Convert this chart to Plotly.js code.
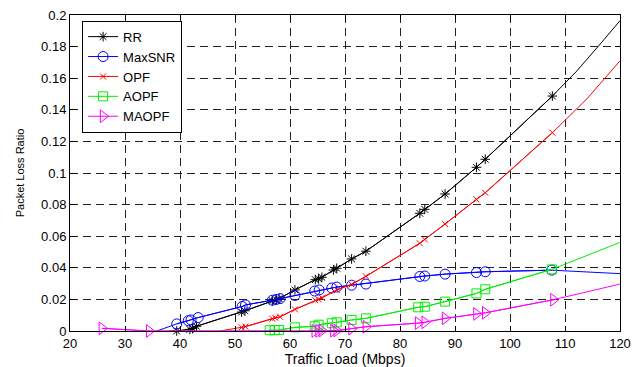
<!DOCTYPE html>
<html>
<head>
<meta charset="utf-8">
<script src="https://cdn.plot.ly/plotly-3.0.1.min.js"></script>
<style>html,body{margin:0;padding:0;background:#fff}#chart{width:633px;height:367px}</style>
</head>
<body>
<div id="chart"></div>
<script>
// Series names
const seriesNames = ["RR", "MaxSNR", "OPF", "AOPF", "MAOPF"];

// RR (measured points)
const rrX = [39.4, 41.8, 42.3, 43.0, 51.2, 51.8, 56.8, 57.5, 58.0, 60.9, 64.6, 65.2, 65.8, 67.9, 68.5, 71.2, 73.8, 83.6, 84.5, 88.2, 93.9, 95.5, 107.7];
const rrY = [0.0, 0.001, 0.0015, 0.003, 0.012, 0.0128, 0.019, 0.0198, 0.0205, 0.026, 0.0325, 0.033, 0.034, 0.0386, 0.0397, 0.0456, 0.0505, 0.0745, 0.077, 0.0867, 0.1036, 0.1087, 0.1487];
const rrHeadX = [38.0], rrHeadY = [0.0];
const rrTailX = [112, 116, 120], rrTailY = [0.164, 0.18, 0.1964];

// MaxSNR
const snrX = [39.4, 41.5, 42.0, 43.3, 51.3, 51.9, 56.8, 57.5, 58.2, 60.9, 64.5, 65.3, 67.6, 68.5, 71.2, 73.8, 83.6, 84.5, 88.2, 93.9, 95.5, 107.6];
const snrY = [0.0045, 0.0065, 0.007, 0.0085, 0.0155, 0.0165, 0.0195, 0.02, 0.0205, 0.0225, 0.0253, 0.026, 0.0272, 0.0278, 0.029, 0.0297, 0.0345, 0.0348, 0.036, 0.037, 0.0375, 0.0385];
const snrHeadX = [35.8], snrHeadY = [0.0];
const snrTailX = [114, 120], snrTailY = [0.0375, 0.0363];

// OPF
const opfX = [51.2, 51.9, 56.8, 57.3, 58.2, 60.9, 64.6, 65.2, 65.8, 68.5, 71.2, 73.8, 83.6, 84.5, 88.2, 93.9, 95.5, 107.7];
const opfY = [0.0023, 0.0028, 0.0078, 0.0084, 0.009, 0.0137, 0.0195, 0.02, 0.021, 0.026, 0.0295, 0.0346, 0.0555, 0.058, 0.0677, 0.0833, 0.0875, 0.1255];
const opfHeadX = [47.3], opfHeadY = [0.0];
const opfTailX = [114, 120], opfTailY = [0.147, 0.171];

// AOPF
const aopfX = [56.3, 57.2, 58.0, 60.9, 64.5, 65.2, 67.6, 68.5, 71.2, 73.8, 83.3, 84.5, 88.2, 93.9, 95.5, 107.6];
const aopfY = [0.0005, 0.0005, 0.0006, 0.0023, 0.003, 0.004, 0.0049, 0.0055, 0.007, 0.008, 0.015, 0.0154, 0.0186, 0.0238, 0.0264, 0.039];
const aopfHeadX = [55.5], aopfHeadY = [0.0];
const aopfTailX = [120], aopfTailY = [0.0561];

// MAOPF
const maopfX = [25.8, 34.4, 64.5, 65.2, 65.8, 67.9, 68.5, 71.2, 73.8, 83.3, 84.5, 88.2, 93.9, 95.5, 107.9];
const maopfY = [0.0017, 0.0, 0.0, 0.0, 0.0002, 0.0002, 0.0003, 0.0015, 0.0027, 0.005, 0.0055, 0.008, 0.0108, 0.0115, 0.0198];
const maopfHeadX = [], maopfHeadY = [];
const maopfTailX = [120], maopfTailY = [0.0297];

// Tick labels
const xTicks = [20, 30, 40, 50, 60, 70, 80, 90, 100, 110, 120];
const yTicks = [0, 0.02, 0.04, 0.06, 0.08, 0.1, 0.12, 0.14, 0.16, 0.18, 0.2];

const styles = [
  {color: "#000000", symbol: "asterisk-open", size: 8},
  {color: "#0000ff", symbol: "circle-open", size: 10},
  {color: "#ff0000", symbol: "x-thin-open", size: 6},
  {color: "#00ee00", symbol: "square-open", size: 9},
  {color: "#ff00ff", symbol: "triangle-right-open", size: 11}
];
const series = [
  [rrX, rrY, rrHeadX, rrHeadY, rrTailX, rrTailY],
  [snrX, snrY, snrHeadX, snrHeadY, snrTailX, snrTailY],
  [opfX, opfY, opfHeadX, opfHeadY, opfTailX, opfTailY],
  [aopfX, aopfY, aopfHeadX, aopfHeadY, aopfTailX, aopfTailY],
  [maopfX, maopfY, maopfHeadX, maopfHeadY, maopfTailX, maopfTailY]
];

const traces = [];
series.forEach((s, i) => {
  const st = styles[i];
  traces.push({
    x: s[2].concat(s[0], s[4]), y: s[3].concat(s[1], s[5]),
    mode: "lines", type: "scatter", showlegend: false, legendgroup: "g" + i,
    line: {color: st.color, width: 1}, hoverinfo: "skip", cliponaxis: false
  });
  traces.push({
    x: s[0], y: s[1], name: seriesNames[i],
    mode: "lines+markers", type: "scatter", legendgroup: "g" + i,
    line: {color: st.color, width: 1},
    marker: {symbol: st.symbol, size: st.size, color: st.color, line: {color: st.color, width: 1}},
    cliponaxis: false
  });
});

const font = {family: "Liberation Sans, Arial, sans-serif", color: "#000"};
const gridDash = "8px,5px";
const layout = {
  width: 633, height: 367,
  margin: {l: 70, r: 13, t: 15, b: 36},
  paper_bgcolor: "#fff", plot_bgcolor: "#fff",
  font: Object.assign({size: 13}, font),
  showlegend: true,
  legend: {
    x: 0.022, y: 0.982, xanchor: "left", yanchor: "top",
    bgcolor: "#fff", bordercolor: "#000", borderwidth: 1,
    font: Object.assign({size: 13}, font),
    tracegroupgap: 0, entrywidth: 82, entrywidthmode: "pixels"
  },
  xaxis: {
    range: [20, 120], tickvals: xTicks, ticktext: xTicks.map(String),
    showgrid: true, gridcolor: "#222", griddash: gridDash, gridwidth: 1,
    zeroline: false, showline: true, linecolor: "#000", linewidth: 1, mirror: "ticks",
    ticks: "inside", ticklen: 5, tickcolor: "#000",
    tickfont: Object.assign({size: 13}, font),
    title: {text: "Traffic Load (Mbps)", font: Object.assign({size: 14}, font), standoff: 3}
  },
  yaxis: {
    range: [0, 0.2], tickvals: yTicks, ticktext: yTicks.map(String),
    showgrid: true, gridcolor: "#222", griddash: gridDash, gridwidth: 1,
    zeroline: false, showline: true, linecolor: "#000", linewidth: 1, mirror: "ticks",
    ticks: "inside", ticklen: 5, tickcolor: "#000",
    tickfont: Object.assign({size: 13}, font),
    title: {text: "Packet Loss Ratio", font: Object.assign({size: 11}, font), standoff: 14}
  }
};

Plotly.newPlot("chart", traces, layout, {staticPlot: true, displayModeBar: false});
</script>
</body>
</html>
